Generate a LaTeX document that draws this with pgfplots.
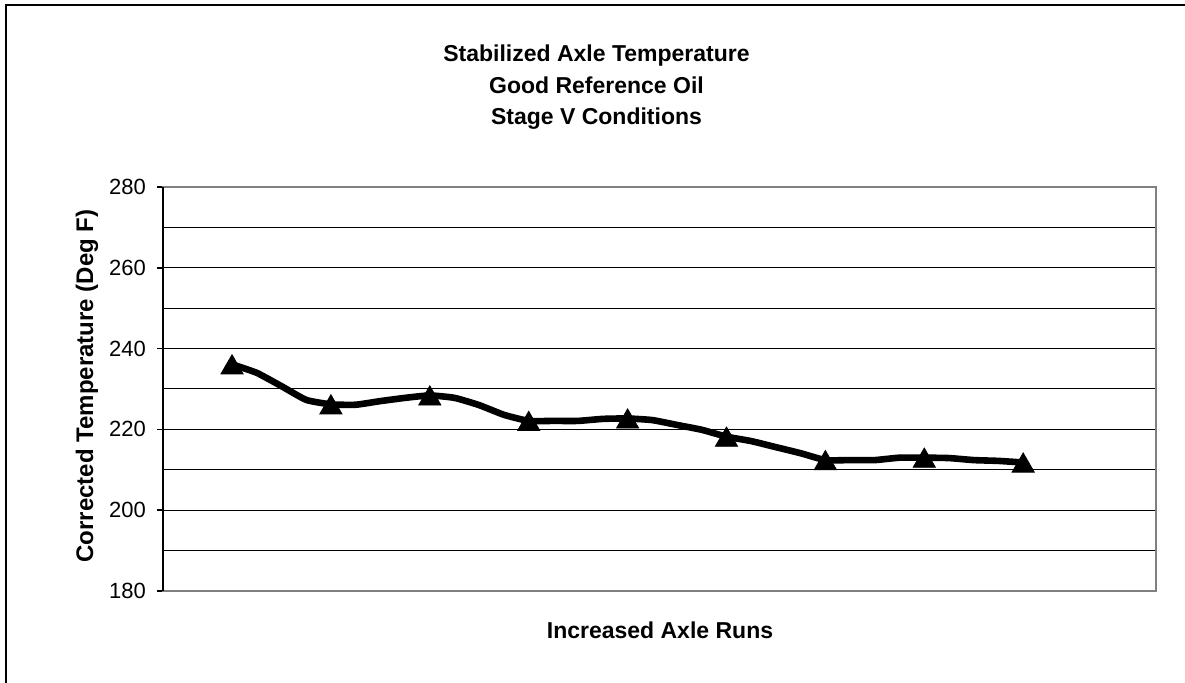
\documentclass[border=0pt]{standalone}
\usepackage{pgfplots}
\pgfplotsset{compat=1.18}
\usepackage{fontspec}
\setmainfont{Liberation Sans}
\definecolor{bordergray}{RGB}{128,128,128}
\pgfplotstableread{
x y
1 236.1
1.25 234.0
1.5 230.7
1.75 227.3
2 226.2
2.25 226.1
2.5 227.0
2.75 227.8
3 228.4
3.25 227.8
3.5 226.0
3.75 223.6
4 222.1
4.25 222.1
4.5 222.1
4.75 222.6
5 222.7
5.25 222.3
5.5 221.1
5.75 219.9
6 218.2
6.25 217.1
6.5 215.6
6.75 214.1
7 212.4
7.25 212.4
7.5 212.4
7.75 213.0
8 213.0
8.25 212.9
8.5 212.4
8.75 212.2
9 211.8
}\linedata
\pgfplotstableread{
x y
1 236.1
2 226.2
3 228.4
4 222.1
5 222.7
6 218.2
7 212.4
8 213.0
9 211.8
}\markdata
\begin{document}
\begin{tikzpicture}
\path[use as bounding box] (0,0) rectangle (592.5pt,341.5pt);
\draw[black, line width=0.9pt] (3pt,0) -- (3pt,339pt) -- (592.5pt,339pt);
\begin{axis}[
  at={(81.5pt,46pt)}, anchor=south west,
  scale only axis, width=496.5pt, height=202pt,
  xmin=0.302, xmax=10.343,
  ymin=180, ymax=280,
  xtick=\empty,
  ytick={180,200,...,280},
  minor ytick={190,210,...,270},
  ymajorgrids, yminorgrids,
  major grid style={black, line width=0.5pt},
  minor grid style={black, line width=0.5pt},
  axis line style={bordergray, line width=1pt},
  tick align=outside, ytick pos=left,
  major tick length=3pt, minor tick length=0pt,
  ytick style={black, line width=0.8pt},
  tick label style={font=\fontsize{11}{13}\selectfont},
  /pgf/number format/assume math mode=true,
  yticklabel style={xshift=-2pt},
  clip=false,
]
\addplot[black, line width=3.3pt, smooth, tension=0.3, no markers] table[x=x,y=y] {\linedata};
\addplot[only marks, mark=triangle*, mark size=6.4pt, mark options={black, fill=black, yshift=-1.6pt}] table[x=x,y=y] {\markdata};
\draw[black, line width=1pt] (rel axis cs:0,0) -- (rel axis cs:0,1);
\end{axis}
\node[anchor=base, font=\bfseries\fontsize{11.5}{13}\selectfont] at (298.25pt,310.5pt) {Stabilized Axle Temperature};
\node[anchor=base, font=\bfseries\fontsize{11.5}{13}\selectfont] at (298.25pt,294.75pt) {Good Reference Oil};
\node[anchor=base, font=\bfseries\fontsize{11.5}{13}\selectfont] at (298.25pt,279pt) {Stage V Conditions};
\node[anchor=base, font=\bfseries\fontsize{11.5}{13}\selectfont] at (330pt,22pt) {Increased Axle Runs};
\node[anchor=base, rotate=90, font=\bfseries\fontsize{12}{14}\selectfont] at (46.5pt,148.5pt) {Corrected Temperature (Deg F)};
\end{tikzpicture}
\end{document}
